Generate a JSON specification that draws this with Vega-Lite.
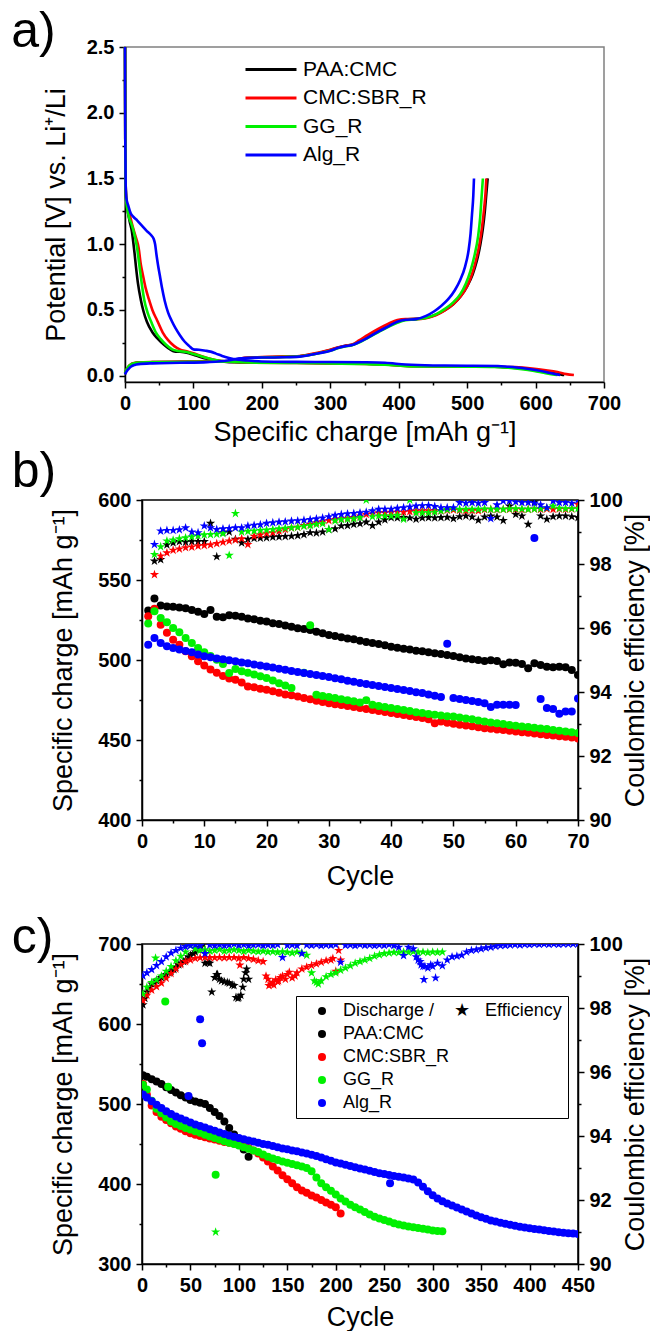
{
"$schema": "https://vega.github.io/schema/vega-lite/v6.json",
"background": "white",
"padding": {"left": 10, "top": 6, "right": 0, "bottom": 0},
"config": {
  "font": "Liberation Sans",
  "view": {"stroke": "#000", "strokeWidth": 1.5},
  "axis": {"labelFont": "Liberation Sans", "labelFontWeight": "bold", "labelFontSize": 20, "labelColor": "#000", "titleFont": "Liberation Sans", "titleFontWeight": "normal", "titleFontSize": 27, "titleColor": "#000", "domainColor": "#000", "domainWidth": 1.5, "tickColor": "#000", "tickWidth": 1.5, "tickSize": 6, "labelPadding": 5, "grid": false, "labelFlush": false, "labelOverlap": false},
  "title": {"font": "Liberation Sans", "fontWeight": "normal", "fontSize": 50, "color": "#000", "anchor": "start", "frame": "bounds"}
},
"datasets": {
"a": [
{"s":"P","g":"d","x":0,"v":2.5},{"s":"P","g":"d","x":0.4,"v":1.8},{"s":"P","g":"d","x":1,"v":1.45},{"s":"P","g":"d","x":2,"v":1.32},{"s":"P","g":"d","x":4,"v":1.25},{"s":"P","g":"d","x":7,"v":1.17},{"s":"P","g":"d","x":10,"v":1.1},{"s":"P","g":"d","x":12,"v":1.02},{"s":"P","g":"d","x":14,"v":0.93},{"s":"P","g":"d","x":16,"v":0.83},{"s":"P","g":"d","x":19,"v":0.7},{"s":"P","g":"d","x":23,"v":0.58},{"s":"P","g":"d","x":27,"v":0.49},{"s":"P","g":"d","x":32,"v":0.41},{"s":"P","g":"d","x":40,"v":0.33},{"s":"P","g":"d","x":48,"v":0.28},{"s":"P","g":"d","x":57,"v":0.235},{"s":"P","g":"d","x":66,"v":0.2},{"s":"P","g":"d","x":72,"v":0.185},{"s":"P","g":"d","x":80,"v":0.182},{"s":"P","g":"d","x":90,"v":0.175},{"s":"P","g":"d","x":100,"v":0.16},{"s":"P","g":"d","x":110,"v":0.143},{"s":"P","g":"d","x":120,"v":0.128},{"s":"P","g":"d","x":132,"v":0.115},{"s":"P","g":"d","x":145,"v":0.107},{"s":"P","g":"d","x":160,"v":0.102},{"s":"P","g":"d","x":180,"v":0.1},{"s":"P","g":"d","x":250,"v":0.098},{"s":"P","g":"d","x":300,"v":0.095},{"s":"P","g":"d","x":350,"v":0.091},{"s":"P","g":"d","x":380,"v":0.086},{"s":"P","g":"d","x":410,"v":0.076},{"s":"P","g":"d","x":450,"v":0.072},{"s":"P","g":"d","x":500,"v":0.07},{"s":"P","g":"d","x":540,"v":0.068},{"s":"P","g":"d","x":560,"v":0.063},{"s":"P","g":"d","x":580,"v":0.055},{"s":"P","g":"d","x":600,"v":0.042},{"s":"P","g":"d","x":615,"v":0.03},{"s":"P","g":"d","x":628,"v":0.018},{"s":"P","g":"d","x":638,"v":0.008},{"s":"P","g":"d","x":642,"v":0.005},
{"s":"P","g":"c","x":0,"v":0.02},{"s":"P","g":"c","x":2,"v":0.04},{"s":"P","g":"c","x":5,"v":0.065},{"s":"P","g":"c","x":9,"v":0.085},{"s":"P","g":"c","x":14,"v":0.095},{"s":"P","g":"c","x":20,"v":0.1},{"s":"P","g":"c","x":40,"v":0.103},{"s":"P","g":"c","x":80,"v":0.105},{"s":"P","g":"c","x":120,"v":0.107},{"s":"P","g":"c","x":150,"v":0.11},{"s":"P","g":"c","x":165,"v":0.125},{"s":"P","g":"c","x":175,"v":0.135},{"s":"P","g":"c","x":200,"v":0.14},{"s":"P","g":"c","x":230,"v":0.143},{"s":"P","g":"c","x":255,"v":0.148},{"s":"P","g":"c","x":270,"v":0.16},{"s":"P","g":"c","x":285,"v":0.175},{"s":"P","g":"c","x":300,"v":0.195},{"s":"P","g":"c","x":312,"v":0.215},{"s":"P","g":"c","x":322,"v":0.228},{"s":"P","g":"c","x":332,"v":0.235},{"s":"P","g":"c","x":342,"v":0.26},{"s":"P","g":"c","x":355,"v":0.3},{"s":"P","g":"c","x":370,"v":0.345},{"s":"P","g":"c","x":385,"v":0.385},{"s":"P","g":"c","x":398,"v":0.415},{"s":"P","g":"c","x":410,"v":0.428},{"s":"P","g":"c","x":425,"v":0.432},{"s":"P","g":"c","x":440,"v":0.44},{"s":"P","g":"c","x":455,"v":0.465},{"s":"P","g":"c","x":468,"v":0.5},{"s":"P","g":"c","x":480,"v":0.545},{"s":"P","g":"c","x":490,"v":0.6},{"s":"P","g":"c","x":500,"v":0.68},{"s":"P","g":"c","x":508,"v":0.77},{"s":"P","g":"c","x":514,"v":0.87},{"s":"P","g":"c","x":519,"v":0.99},{"s":"P","g":"c","x":523,"v":1.12},{"s":"P","g":"c","x":526,"v":1.26},{"s":"P","g":"c","x":528,"v":1.38},{"s":"P","g":"c","x":530,"v":1.5},
{"s":"C","g":"d","x":0,"v":2.5},{"s":"C","g":"d","x":0.4,"v":1.8},{"s":"C","g":"d","x":1,"v":1.45},{"s":"C","g":"d","x":2,"v":1.34},{"s":"C","g":"d","x":4,"v":1.28},{"s":"C","g":"d","x":8,"v":1.2},{"s":"C","g":"d","x":12,"v":1.12},{"s":"C","g":"d","x":16,"v":1.05},{"s":"C","g":"d","x":20,"v":0.97},{"s":"C","g":"d","x":23,"v":0.85},{"s":"C","g":"d","x":26,"v":0.77},{"s":"C","g":"d","x":30,"v":0.67},{"s":"C","g":"d","x":35,"v":0.58},{"s":"C","g":"d","x":40,"v":0.5},{"s":"C","g":"d","x":47,"v":0.42},{"s":"C","g":"d","x":55,"v":0.33},{"s":"C","g":"d","x":63,"v":0.27},{"s":"C","g":"d","x":72,"v":0.225},{"s":"C","g":"d","x":80,"v":0.2},{"s":"C","g":"d","x":90,"v":0.185},{"s":"C","g":"d","x":100,"v":0.17},{"s":"C","g":"d","x":110,"v":0.152},{"s":"C","g":"d","x":120,"v":0.135},{"s":"C","g":"d","x":132,"v":0.12},{"s":"C","g":"d","x":145,"v":0.11},{"s":"C","g":"d","x":160,"v":0.104},{"s":"C","g":"d","x":180,"v":0.1},{"s":"C","g":"d","x":250,"v":0.097},{"s":"C","g":"d","x":300,"v":0.094},{"s":"C","g":"d","x":350,"v":0.09},{"s":"C","g":"d","x":380,"v":0.085},{"s":"C","g":"d","x":410,"v":0.075},{"s":"C","g":"d","x":450,"v":0.071},{"s":"C","g":"d","x":500,"v":0.069},{"s":"C","g":"d","x":540,"v":0.068},{"s":"C","g":"d","x":570,"v":0.065},{"s":"C","g":"d","x":595,"v":0.055},{"s":"C","g":"d","x":615,"v":0.042},{"s":"C","g":"d","x":632,"v":0.028},{"s":"C","g":"d","x":645,"v":0.012},{"s":"C","g":"d","x":656,"v":0.005},
{"s":"C","g":"c","x":0,"v":0.02},{"s":"C","g":"c","x":2,"v":0.045},{"s":"C","g":"c","x":5,"v":0.07},{"s":"C","g":"c","x":9,"v":0.088},{"s":"C","g":"c","x":14,"v":0.097},{"s":"C","g":"c","x":20,"v":0.101},{"s":"C","g":"c","x":40,"v":0.104},{"s":"C","g":"c","x":80,"v":0.106},{"s":"C","g":"c","x":120,"v":0.108},{"s":"C","g":"c","x":150,"v":0.111},{"s":"C","g":"c","x":165,"v":0.125},{"s":"C","g":"c","x":175,"v":0.136},{"s":"C","g":"c","x":200,"v":0.141},{"s":"C","g":"c","x":230,"v":0.145},{"s":"C","g":"c","x":255,"v":0.15},{"s":"C","g":"c","x":270,"v":0.162},{"s":"C","g":"c","x":285,"v":0.178},{"s":"C","g":"c","x":300,"v":0.198},{"s":"C","g":"c","x":312,"v":0.217},{"s":"C","g":"c","x":322,"v":0.228},{"s":"C","g":"c","x":332,"v":0.238},{"s":"C","g":"c","x":342,"v":0.268},{"s":"C","g":"c","x":355,"v":0.31},{"s":"C","g":"c","x":370,"v":0.355},{"s":"C","g":"c","x":385,"v":0.395},{"s":"C","g":"c","x":398,"v":0.423},{"s":"C","g":"c","x":410,"v":0.43},{"s":"C","g":"c","x":425,"v":0.43},{"s":"C","g":"c","x":440,"v":0.438},{"s":"C","g":"c","x":455,"v":0.462},{"s":"C","g":"c","x":468,"v":0.498},{"s":"C","g":"c","x":480,"v":0.545},{"s":"C","g":"c","x":490,"v":0.6},{"s":"C","g":"c","x":500,"v":0.68},{"s":"C","g":"c","x":507,"v":0.77},{"s":"C","g":"c","x":513,"v":0.88},{"s":"C","g":"c","x":518,"v":1.0},{"s":"C","g":"c","x":522,"v":1.14},{"s":"C","g":"c","x":525,"v":1.28},{"s":"C","g":"c","x":527,"v":1.4},{"s":"C","g":"c","x":528,"v":1.5},
{"s":"G","g":"d","x":0,"v":2.5},{"s":"G","g":"d","x":0.4,"v":1.8},{"s":"G","g":"d","x":1,"v":1.42},{"s":"G","g":"d","x":2,"v":1.32},{"s":"G","g":"d","x":4,"v":1.25},{"s":"G","g":"d","x":6,"v":1.2},{"s":"G","g":"d","x":9,"v":1.16},{"s":"G","g":"d","x":13,"v":1.09},{"s":"G","g":"d","x":16,"v":1.02},{"s":"G","g":"d","x":18,"v":0.96},{"s":"G","g":"d","x":20,"v":0.88},{"s":"G","g":"d","x":22,"v":0.8},{"s":"G","g":"d","x":25,"v":0.68},{"s":"G","g":"d","x":28,"v":0.58},{"s":"G","g":"d","x":33,"v":0.48},{"s":"G","g":"d","x":39,"v":0.4},{"s":"G","g":"d","x":45,"v":0.33},{"s":"G","g":"d","x":52,"v":0.28},{"s":"G","g":"d","x":60,"v":0.235},{"s":"G","g":"d","x":69,"v":0.2},{"s":"G","g":"d","x":78,"v":0.188},{"s":"G","g":"d","x":90,"v":0.18},{"s":"G","g":"d","x":100,"v":0.165},{"s":"G","g":"d","x":110,"v":0.15},{"s":"G","g":"d","x":120,"v":0.135},{"s":"G","g":"d","x":132,"v":0.12},{"s":"G","g":"d","x":145,"v":0.11},{"s":"G","g":"d","x":160,"v":0.104},{"s":"G","g":"d","x":180,"v":0.1},{"s":"G","g":"d","x":250,"v":0.097},{"s":"G","g":"d","x":300,"v":0.093},{"s":"G","g":"d","x":350,"v":0.089},{"s":"G","g":"d","x":380,"v":0.084},{"s":"G","g":"d","x":410,"v":0.073},{"s":"G","g":"d","x":450,"v":0.07},{"s":"G","g":"d","x":500,"v":0.068},{"s":"G","g":"d","x":540,"v":0.066},{"s":"G","g":"d","x":560,"v":0.06},{"s":"G","g":"d","x":580,"v":0.05},{"s":"G","g":"d","x":598,"v":0.036},{"s":"G","g":"d","x":612,"v":0.022},{"s":"G","g":"d","x":625,"v":0.01},{"s":"G","g":"d","x":632,"v":0.005},
{"s":"G","g":"c","x":0,"v":0.02},{"s":"G","g":"c","x":2,"v":0.045},{"s":"G","g":"c","x":5,"v":0.07},{"s":"G","g":"c","x":9,"v":0.087},{"s":"G","g":"c","x":14,"v":0.096},{"s":"G","g":"c","x":20,"v":0.1},{"s":"G","g":"c","x":40,"v":0.102},{"s":"G","g":"c","x":80,"v":0.104},{"s":"G","g":"c","x":120,"v":0.106},{"s":"G","g":"c","x":150,"v":0.109},{"s":"G","g":"c","x":165,"v":0.122},{"s":"G","g":"c","x":175,"v":0.133},{"s":"G","g":"c","x":200,"v":0.138},{"s":"G","g":"c","x":230,"v":0.142},{"s":"G","g":"c","x":255,"v":0.147},{"s":"G","g":"c","x":270,"v":0.158},{"s":"G","g":"c","x":285,"v":0.172},{"s":"G","g":"c","x":300,"v":0.19},{"s":"G","g":"c","x":312,"v":0.21},{"s":"G","g":"c","x":322,"v":0.222},{"s":"G","g":"c","x":332,"v":0.232},{"s":"G","g":"c","x":342,"v":0.252},{"s":"G","g":"c","x":355,"v":0.288},{"s":"G","g":"c","x":370,"v":0.33},{"s":"G","g":"c","x":385,"v":0.372},{"s":"G","g":"c","x":398,"v":0.403},{"s":"G","g":"c","x":410,"v":0.422},{"s":"G","g":"c","x":425,"v":0.428},{"s":"G","g":"c","x":440,"v":0.44},{"s":"G","g":"c","x":455,"v":0.468},{"s":"G","g":"c","x":468,"v":0.51},{"s":"G","g":"c","x":480,"v":0.56},{"s":"G","g":"c","x":490,"v":0.62},{"s":"G","g":"c","x":498,"v":0.7},{"s":"G","g":"c","x":505,"v":0.8},{"s":"G","g":"c","x":511,"v":0.92},{"s":"G","g":"c","x":516,"v":1.06},{"s":"G","g":"c","x":519,"v":1.2},{"s":"G","g":"c","x":521,"v":1.35},{"s":"G","g":"c","x":523,"v":1.5},
{"s":"A","g":"d","x":0,"v":2.5},{"s":"A","g":"d","x":0.4,"v":1.8},{"s":"A","g":"d","x":1,"v":1.45},{"s":"A","g":"d","x":2,"v":1.35},{"s":"A","g":"d","x":5,"v":1.29},{"s":"A","g":"d","x":8,"v":1.24},{"s":"A","g":"d","x":12,"v":1.21},{"s":"A","g":"d","x":18,"v":1.18},{"s":"A","g":"d","x":25,"v":1.14},{"s":"A","g":"d","x":32,"v":1.1},{"s":"A","g":"d","x":38,"v":1.07},{"s":"A","g":"d","x":42,"v":1.04},{"s":"A","g":"d","x":44,"v":1.0},{"s":"A","g":"d","x":46,"v":0.92},{"s":"A","g":"d","x":48,"v":0.85},{"s":"A","g":"d","x":51,"v":0.76},{"s":"A","g":"d","x":54,"v":0.67},{"s":"A","g":"d","x":58,"v":0.57},{"s":"A","g":"d","x":63,"v":0.48},{"s":"A","g":"d","x":68,"v":0.42},{"s":"A","g":"d","x":74,"v":0.36},{"s":"A","g":"d","x":80,"v":0.31},{"s":"A","g":"d","x":87,"v":0.26},{"s":"A","g":"d","x":94,"v":0.225},{"s":"A","g":"d","x":100,"v":0.2},{"s":"A","g":"d","x":108,"v":0.197},{"s":"A","g":"d","x":118,"v":0.19},{"s":"A","g":"d","x":125,"v":0.183},{"s":"A","g":"d","x":133,"v":0.168},{"s":"A","g":"d","x":142,"v":0.15},{"s":"A","g":"d","x":152,"v":0.135},{"s":"A","g":"d","x":165,"v":0.122},{"s":"A","g":"d","x":180,"v":0.115},{"s":"A","g":"d","x":200,"v":0.108},{"s":"A","g":"d","x":250,"v":0.105},{"s":"A","g":"d","x":300,"v":0.104},{"s":"A","g":"d","x":350,"v":0.102},{"s":"A","g":"d","x":380,"v":0.098},{"s":"A","g":"d","x":410,"v":0.085},{"s":"A","g":"d","x":450,"v":0.078},{"s":"A","g":"d","x":500,"v":0.076},{"s":"A","g":"d","x":545,"v":0.074},{"s":"A","g":"d","x":560,"v":0.068},{"s":"A","g":"d","x":580,"v":0.058},{"s":"A","g":"d","x":600,"v":0.043},{"s":"A","g":"d","x":615,"v":0.028},{"s":"A","g":"d","x":628,"v":0.013},{"s":"A","g":"d","x":636,"v":0.005},
{"s":"A","g":"c","x":0,"v":0.01},{"s":"A","g":"c","x":2,"v":0.03},{"s":"A","g":"c","x":5,"v":0.05},{"s":"A","g":"c","x":9,"v":0.07},{"s":"A","g":"c","x":14,"v":0.082},{"s":"A","g":"c","x":20,"v":0.088},{"s":"A","g":"c","x":40,"v":0.094},{"s":"A","g":"c","x":80,"v":0.098},{"s":"A","g":"c","x":120,"v":0.103},{"s":"A","g":"c","x":150,"v":0.115},{"s":"A","g":"c","x":165,"v":0.13},{"s":"A","g":"c","x":175,"v":0.135},{"s":"A","g":"c","x":200,"v":0.138},{"s":"A","g":"c","x":230,"v":0.14},{"s":"A","g":"c","x":255,"v":0.145},{"s":"A","g":"c","x":270,"v":0.157},{"s":"A","g":"c","x":285,"v":0.172},{"s":"A","g":"c","x":300,"v":0.19},{"s":"A","g":"c","x":312,"v":0.212},{"s":"A","g":"c","x":322,"v":0.225},{"s":"A","g":"c","x":332,"v":0.233},{"s":"A","g":"c","x":342,"v":0.255},{"s":"A","g":"c","x":355,"v":0.29},{"s":"A","g":"c","x":370,"v":0.335},{"s":"A","g":"c","x":385,"v":0.375},{"s":"A","g":"c","x":398,"v":0.41},{"s":"A","g":"c","x":410,"v":0.425},{"s":"A","g":"c","x":425,"v":0.43},{"s":"A","g":"c","x":440,"v":0.455},{"s":"A","g":"c","x":452,"v":0.49},{"s":"A","g":"c","x":462,"v":0.53},{"s":"A","g":"c","x":472,"v":0.58},{"s":"A","g":"c","x":482,"v":0.65},{"s":"A","g":"c","x":490,"v":0.73},{"s":"A","g":"c","x":497,"v":0.83},{"s":"A","g":"c","x":502,"v":0.95},{"s":"A","g":"c","x":505,"v":1.08},{"s":"A","g":"c","x":507,"v":1.22},{"s":"A","g":"c","x":509,"v":1.37},{"s":"A","g":"c","x":510,"v":1.5}
],
"b": [
{"s":"P","c":1,"q":531},{"s":"P","c":2,"q":538.5,"e":98.09},{"s":"P","c":3,"q":534,"e":98.14},{"s":"P","c":4,"q":533.5,"e":98.6},{"s":"P","c":5,"q":533.3,"e":98.66},{"s":"P","c":6,"q":532.8,"e":98.7},{"s":"P","c":7,"q":532.3,"e":98.68},{"s":"P","c":8,"q":531.3,"e":98.7},{"s":"P","c":9,"q":530.2,"e":98.7},{"s":"P","c":10,"q":528.8,"e":98.7},{"s":"P","c":11,"q":531.2,"e":99.27},{"s":"P","c":12,"q":527,"e":98.23},{"s":"P","c":13,"q":526.7,"e":98.98},{"s":"P","c":14,"q":528,"e":99.0},{"s":"P","c":15,"q":527.6,"e":98.77},{"s":"P","c":16,"q":527,"e":98.66},{"s":"P","c":17,"q":526,"e":98.77},{"s":"P","c":18,"q":525.4,"e":98.8},{"s":"P","c":19,"q":524.6,"e":98.81},{"s":"P","c":20,"q":524,"e":98.82},{"s":"P","c":21,"q":523,"e":98.84},{"s":"P","c":22,"q":522.5,"e":98.85},{"s":"P","c":23,"q":521.5,"e":98.86},{"s":"P","c":24,"q":520.8,"e":98.87},{"s":"P","c":25,"q":519.8,"e":98.89},{"s":"P","c":26,"q":519.4,"e":98.92},{"s":"P","c":27,"q":518.8,"e":98.98},{"s":"P","c":28,"q":517.7,"e":98.97},{"s":"P","c":29,"q":516.7,"e":99.0},{"s":"P","c":30,"q":515.6,"e":99.08},{"s":"P","c":31,"q":515,"e":99.1},{"s":"P","c":32,"q":514.2,"e":99.19},{"s":"P","c":33,"q":513.5,"e":99.2},{"s":"P","c":34,"q":512.9,"e":99.24},{"s":"P","c":35,"q":512,"e":99.26},{"s":"P","c":36,"q":511.3,"e":99.31},{"s":"P","c":37,"q":510.6,"e":99.2},{"s":"P","c":38,"q":510,"e":99.31},{"s":"P","c":39,"q":509.2,"e":99.38},{"s":"P","c":40,"q":508.3,"e":99.45},{"s":"P","c":41,"q":507.7,"e":99.44},{"s":"P","c":42,"q":507,"e":99.45},{"s":"P","c":43,"q":506.5,"e":99.44},{"s":"P","c":44,"q":505.8,"e":99.4},{"s":"P","c":45,"q":505.4,"e":99.44},{"s":"P","c":46,"q":504.8,"e":99.45},{"s":"P","c":47,"q":504.2,"e":99.44},{"s":"P","c":48,"q":503.7,"e":99.45},{"s":"P","c":49,"q":503.1,"e":99.46},{"s":"P","c":50,"q":502.5,"e":99.42},{"s":"P","c":51,"q":501.7,"e":99.48},{"s":"P","c":52,"q":501,"e":99.5},{"s":"P","c":53,"q":500.4,"e":99.47},{"s":"P","c":54,"q":500,"e":99.37},{"s":"P","c":55,"q":499.4,"e":99.47},{"s":"P","c":56,"q":499.8,"e":99.5},{"s":"P","c":57,"q":499.4,"e":99.47},{"s":"P","c":58,"q":497.3,"e":99.36},{"s":"P","c":59,"q":498.5,"e":99.81},{"s":"P","c":60,"q":498.3,"e":99.55},{"s":"P","c":61,"q":497.5,"e":99.5},{"s":"P","c":62,"q":494.8,"e":99.24},{"s":"P","c":63,"q":497.9,"e":99.94},{"s":"P","c":64,"q":496.9,"e":99.5},{"s":"P","c":65,"q":495.8,"e":99.4},{"s":"P","c":66,"q":495.4,"e":99.48},{"s":"P","c":67,"q":495.8,"e":99.5},{"s":"P","c":68,"q":495.4,"e":99.5},{"s":"P","c":69,"q":493.8,"e":99.48},{"s":"P","c":70,"q":490.6,"e":99.45},
{"s":"C","c":1,"q":527.3},{"s":"C","c":2,"q":532,"e":97.67},{"s":"C","c":3,"q":522,"e":98.25},{"s":"C","c":4,"q":517,"e":98.35},{"s":"C","c":5,"q":512.7,"e":98.43},{"s":"C","c":6,"q":509.6,"e":98.47},{"s":"C","c":7,"q":505.4,"e":98.51},{"s":"C","c":8,"q":502.3,"e":98.53},{"s":"C","c":9,"q":499.2,"e":98.56},{"s":"C","c":10,"q":496.5,"e":98.58},{"s":"C","c":11,"q":494,"e":98.6},{"s":"C","c":12,"q":492,"e":98.64},{"s":"C","c":13,"q":490,"e":98.68},{"s":"C","c":14,"q":488.5,"e":98.72},{"s":"C","c":15,"q":487.7,"e":98.75},{"s":"C","c":16,"q":486,"e":98.79},{"s":"C","c":17,"q":483.5,"e":98.61},{"s":"C","c":18,"q":483,"e":98.87},{"s":"C","c":19,"q":482,"e":98.91},{"s":"C","c":20,"q":481.4,"e":98.96},{"s":"C","c":21,"q":480.5,"e":98.98},{"s":"C","c":22,"q":479.5,"e":99.03},{"s":"C","c":23,"q":478.5,"e":99.08},{"s":"C","c":24,"q":478,"e":99.13},{"s":"C","c":25,"q":477.2,"e":99.15},{"s":"C","c":26,"q":476.3,"e":99.2},{"s":"C","c":27,"q":475.5,"e":99.24},{"s":"C","c":28,"q":474.6,"e":99.29},{"s":"C","c":29,"q":473.8,"e":99.32},{"s":"C","c":30,"q":473,"e":99.36},{"s":"C","c":31,"q":472.4,"e":99.39},{"s":"C","c":32,"q":471.8,"e":99.41},{"s":"C","c":33,"q":471.2,"e":99.43},{"s":"C","c":34,"q":470.6,"e":99.45},{"s":"C","c":35,"q":470,"e":99.5},{"s":"C","c":36,"q":469.4,"e":99.55},{"s":"C","c":37,"q":468.8,"e":99.57},{"s":"C","c":38,"q":468.1,"e":99.6},{"s":"C","c":39,"q":467.5,"e":99.6},{"s":"C","c":40,"q":466.8,"e":99.62},{"s":"C","c":41,"q":466.2,"e":99.62},{"s":"C","c":42,"q":465.6,"e":99.62},{"s":"C","c":43,"q":465,"e":99.64},{"s":"C","c":44,"q":464.3,"e":99.66},{"s":"C","c":45,"q":463.7,"e":99.66},{"s":"C","c":46,"q":463,"e":99.66},{"s":"C","c":47,"q":460.5,"e":99.67},{"s":"C","c":48,"q":461.5,"e":99.66},{"s":"C","c":49,"q":460.8,"e":99.68},{"s":"C","c":50,"q":460.2,"e":99.69},{"s":"C","c":51,"q":459.6,"e":99.68},{"s":"C","c":52,"q":459.1,"e":99.66},{"s":"C","c":53,"q":458.6,"e":99.67},{"s":"C","c":54,"q":458,"e":99.66},{"s":"C","c":55,"q":457.4,"e":99.7},{"s":"C","c":56,"q":457,"e":99.71},{"s":"C","c":57,"q":456.6,"e":99.7},{"s":"C","c":58,"q":456.2,"e":99.71},{"s":"C","c":59,"q":455.8,"e":99.71},{"s":"C","c":60,"q":455.3,"e":99.71},{"s":"C","c":61,"q":454.9,"e":99.7},{"s":"C","c":62,"q":454.5,"e":99.71},{"s":"C","c":63,"q":454.1,"e":99.72},{"s":"C","c":64,"q":453.6,"e":99.71},{"s":"C","c":65,"q":453.2,"e":99.72},{"s":"C","c":66,"q":452.8,"e":99.71},{"s":"C","c":67,"q":452.4,"e":99.72},{"s":"C","c":68,"q":452,"e":99.71},{"s":"C","c":69,"q":451.6,"e":99.72},{"s":"C","c":70,"q":451,"e":99.86},
{"s":"G","c":1,"q":522.8},{"s":"G","c":2,"q":530.5,"e":98.3},{"s":"G","c":3,"q":526.3,"e":98.54},{"s":"G","c":4,"q":523.6,"e":98.72},{"s":"G","c":5,"q":520,"e":98.75},{"s":"G","c":6,"q":517.3,"e":98.79},{"s":"G","c":7,"q":513.8,"e":98.82},{"s":"G","c":8,"q":510.6,"e":98.85},{"s":"G","c":9,"q":507.5,"e":98.88},{"s":"G","c":10,"q":504.8,"e":98.91},{"s":"G","c":11,"q":502.5,"e":98.92},{"s":"G","c":12,"q":500.2,"e":98.93},{"s":"G","c":13,"q":497.5,"e":98.95},{"s":"G","c":14,"q":491.9,"e":98.27},{"s":"G","c":15,"q":494.4,"e":99.58},{"s":"G","c":16,"q":493,"e":99.0},{"s":"G","c":17,"q":492,"e":99.02},{"s":"G","c":18,"q":491,"e":99.03},{"s":"G","c":19,"q":489.8,"e":99.05},{"s":"G","c":20,"q":488.7,"e":99.06},{"s":"G","c":21,"q":487.2,"e":99.08},{"s":"G","c":22,"q":485.5,"e":99.1},{"s":"G","c":23,"q":484,"e":99.12},{"s":"G","c":24,"q":482.5,"e":99.13},{"s":"G","c":25,"e":99.15},{"s":"G","c":26,"q":492,"e":99.18},{"s":"G","c":27,"q":521.7,"e":99.2},{"s":"G","c":28,"q":478.3,"e":99.24},{"s":"G","c":29,"q":477.5,"e":99.26},{"s":"G","c":30,"q":476.8,"e":99.08},{"s":"G","c":31,"q":476.2,"e":99.35},{"s":"G","c":32,"q":475.5,"e":99.39},{"s":"G","c":33,"q":474.8,"e":99.4},{"s":"G","c":34,"q":474.2,"e":99.41},{"s":"G","c":35,"q":473.5,"e":99.45},{"s":"G","c":36,"q":474.8,"e":100},{"s":"G","c":37,"q":472,"e":99.48},{"s":"G","c":38,"q":471.3,"e":99.5},{"s":"G","c":39,"q":470.6,"e":99.5},{"s":"G","c":40,"q":470,"e":99.5},{"s":"G","c":41,"q":469.4,"e":99.52},{"s":"G","c":42,"q":468.7,"e":99.4},{"s":"G","c":43,"q":468.1,"e":100},{"s":"G","c":44,"q":467.4,"e":99.6},{"s":"G","c":45,"q":466.8,"e":99.6},{"s":"G","c":46,"q":466.3,"e":99.6},{"s":"G","c":47,"q":465.8,"e":99.62},{"s":"G","c":48,"q":465.3,"e":99.66},{"s":"G","c":49,"q":464.9,"e":99.7},{"s":"G","c":50,"q":464.7,"e":99.73},{"s":"G","c":51,"q":464.1,"e":99.7},{"s":"G","c":52,"q":463.5,"e":99.71},{"s":"G","c":53,"q":462.9,"e":99.71},{"s":"G","c":54,"q":462.2,"e":99.71},{"s":"G","c":55,"q":461.6,"e":99.72},{"s":"G","c":56,"q":461,"e":99.71},{"s":"G","c":57,"q":460.5,"e":99.71},{"s":"G","c":58,"q":460,"e":99.71},{"s":"G","c":59,"q":459.4,"e":99.72},{"s":"G","c":60,"q":458.9,"e":99.73},{"s":"G","c":61,"q":458.5,"e":99.72},{"s":"G","c":62,"q":458.1,"e":99.71},{"s":"G","c":63,"q":457.6,"e":99.72},{"s":"G","c":64,"q":457.2,"e":99.73},{"s":"G","c":65,"q":456.8,"e":99.75},{"s":"G","c":66,"q":456.3,"e":99.81},{"s":"G","c":67,"q":455.8,"e":99.74},{"s":"G","c":68,"q":455.3,"e":99.73},{"s":"G","c":69,"q":454.8,"e":99.73},{"s":"G","c":70,"q":454.3,"e":99.73},
{"s":"A","c":1,"q":509.6},{"s":"A","c":2,"q":513.8,"e":98.61},{"s":"A","c":3,"q":510.6,"e":99.03},{"s":"A","c":4,"q":508.6,"e":99.05},{"s":"A","c":5,"q":507.5,"e":99.05},{"s":"A","c":6,"q":506.6,"e":99.07},{"s":"A","c":7,"q":505.7,"e":99.13},{"s":"A","c":8,"q":504.8,"e":99.0},{"s":"A","c":9,"q":503.5,"e":98.98},{"s":"A","c":10,"q":502.3,"e":99.19},{"s":"A","c":11,"q":501.7,"e":99.13},{"s":"A","c":12,"q":501,"e":99.08},{"s":"A","c":13,"q":500.4,"e":99.1},{"s":"A","c":14,"q":499.8,"e":99.11},{"s":"A","c":15,"q":499.2,"e":99.13},{"s":"A","c":16,"q":498.5,"e":99.13},{"s":"A","c":17,"q":497.9,"e":99.19},{"s":"A","c":18,"q":497.2,"e":99.21},{"s":"A","c":19,"q":496.6,"e":99.23},{"s":"A","c":20,"q":496,"e":99.27},{"s":"A","c":21,"q":495.3,"e":99.29},{"s":"A","c":22,"q":494.6,"e":99.31},{"s":"A","c":23,"q":493.9,"e":99.32},{"s":"A","c":24,"q":493.2,"e":99.34},{"s":"A","c":25,"q":492.5,"e":99.35},{"s":"A","c":26,"q":491.9,"e":99.37},{"s":"A","c":27,"q":491.3,"e":99.39},{"s":"A","c":28,"q":490.6,"e":99.41},{"s":"A","c":29,"q":490,"e":99.44},{"s":"A","c":30,"q":489.4,"e":99.48},{"s":"A","c":31,"q":488.6,"e":99.52},{"s":"A","c":32,"q":487.9,"e":99.55},{"s":"A","c":33,"q":487.1,"e":99.57},{"s":"A","c":34,"q":486.4,"e":99.58},{"s":"A","c":35,"q":485.6,"e":99.6},{"s":"A","c":36,"q":485,"e":99.62},{"s":"A","c":37,"q":484.4,"e":99.66},{"s":"A","c":38,"q":483.7,"e":99.71},{"s":"A","c":39,"q":483.1,"e":99.71},{"s":"A","c":40,"q":482.5,"e":99.71},{"s":"A","c":41,"q":481.9,"e":99.74},{"s":"A","c":42,"q":481.2,"e":99.76},{"s":"A","c":43,"q":480.6,"e":99.78},{"s":"A","c":44,"q":479.9,"e":99.81},{"s":"A","c":45,"q":479.3,"e":99.82},{"s":"A","c":46,"q":478.5,"e":99.83},{"s":"A","c":47,"q":477.6,"e":99.8},{"s":"A","c":48,"q":476.8,"e":99.76},{"s":"A","c":49,"q":510.2,"e":99.76},{"s":"A","c":50,"q":476.2,"e":99.76},{"s":"A","c":51,"q":475.6,"e":99.92},{"s":"A","c":52,"q":475,"e":99.9},{"s":"A","c":53,"q":474.4,"e":99.92},{"s":"A","c":54,"q":473.8,"e":99.9},{"s":"A","c":55,"q":473,"e":99.92},{"s":"A","c":56,"q":470.6,"e":99.42},{"s":"A","c":57,"q":472,"e":99.85},{"s":"A","c":58,"q":472,"e":99.97},{"s":"A","c":59,"q":472,"e":99.97},{"s":"A","c":60,"q":471.8,"e":99.94},{"s":"A","c":61,"e":99.92},{"s":"A","c":62,"e":99.92},{"s":"A","c":63,"q":576.2,"e":99.9},{"s":"A","c":64,"q":475.6,"e":99.85},{"s":"A","c":65,"q":470,"e":99.76},{"s":"A","c":66,"q":469.4,"e":99.97},{"s":"A","c":67,"q":466.4,"e":99.92},{"s":"A","c":68,"q":467.8,"e":99.92},{"s":"A","c":69,"q":467.8,"e":99.9},{"s":"A","c":70,"q":476,"e":100}
],
"c": [
{"s":"P","c":1,"q":536,"e":98.1},{"s":"P","c":5,"q":534,"e":98.5},{"s":"P","c":10,"q":531,"e":98.75},{"s":"P","c":15,"q":528,"e":98.85},{"s":"P","c":20,"q":525,"e":98.95},{"s":"P","c":25,"q":521,"e":99.05},{"s":"P","c":30,"q":517.5,"e":99.15},{"s":"P","c":35,"q":514.5,"e":99.27},{"s":"P","c":40,"q":511,"e":99.4},{"s":"P","c":45,"q":508,"e":99.5},{"s":"P","c":50,"q":505,"e":99.65},{"s":"P","c":55,"q":503,"e":99.75},{"s":"P","c":60,"q":501.5,"e":99.88},{"s":"P","c":65,"q":500,"e":99.4},{"s":"P","c":70,"q":495,"e":99.4},{"s":"P","c":75,"q":490,"e":98.95},{"s":"P","c":80,"q":485,"e":98.9},{"s":"P","c":85,"q":478,"e":98.82},{"s":"P","c":90,"q":470,"e":98.78},{"s":"P","c":95,"q":462,"e":98.7},{"s":"P","c":100,"q":454,"e":98.33},{"s":"P","c":105,"q":443,"e":98.9},{"s":"P","c":110,"q":434,"e":98.9},
{"s":"P","c":3,"e":98.3},{"s":"P","c":8,"e":98.65},{"s":"P","c":13,"e":98.8},{"s":"P","c":18,"e":98.9},{"s":"P","c":23,"e":99.0},{"s":"P","c":28,"e":99.1},{"s":"P","c":33,"e":99.2},{"s":"P","c":38,"e":99.35},{"s":"P","c":43,"e":99.45},{"s":"P","c":48,"e":99.6},{"s":"P","c":53,"e":99.7},{"s":"P","c":58,"e":99.82},{"s":"P","c":63,"e":100},{"s":"P","c":68,"e":99.42},{"s":"P","c":72,"e":98.5},{"s":"P","c":77,"e":99.04},{"s":"P","c":78,"e":99.05},{"s":"P","c":82,"e":98.85},{"s":"P","c":88,"e":98.8},{"s":"P","c":93,"e":98.72},{"s":"P","c":97,"e":98.33},{"s":"P","c":99,"e":98.3},{"s":"P","c":102,"e":98.4},{"s":"P","c":104,"e":98.65},{"s":"P","c":107,"e":99.1},{"s":"P","c":108,"e":99.22},
{"s":"C","c":1,"q":525,"e":98.23},{"s":"C","c":5,"q":512,"e":98.4},{"s":"C","c":10,"q":498,"e":98.56},{"s":"C","c":15,"q":490,"e":98.67},{"s":"C","c":20,"q":484,"e":98.78},{"s":"C","c":25,"q":480,"e":98.93},{"s":"C","c":30,"q":476,"e":99.08},{"s":"C","c":35,"q":472,"e":99.22},{"s":"C","c":40,"q":469,"e":99.36},{"s":"C","c":45,"q":466,"e":99.45},{"s":"C","c":50,"q":463.5,"e":99.5},{"s":"C","c":55,"q":461.5,"e":99.55},{"s":"C","c":60,"q":460,"e":99.57},{"s":"C","c":65,"q":458.5,"e":99.58},{"s":"C","c":70,"q":457,"e":99.58},{"s":"C","c":75,"q":455.5,"e":99.57},{"s":"C","c":80,"q":454,"e":99.58},{"s":"C","c":85,"q":452.5,"e":99.57},{"s":"C","c":90,"q":451.5,"e":99.58},{"s":"C","c":95,"q":450.5,"e":99.58},{"s":"C","c":100,"q":449,"e":99.55},{"s":"C","c":105,"q":447,"e":99.58},{"s":"C","c":110,"q":445,"e":99.55},{"s":"C","c":115,"q":442,"e":99.52},{"s":"C","c":120,"q":438,"e":99.48},{"s":"C","c":125,"q":433,"e":99.45},{"s":"C","c":130,"q":428,"e":98.9},{"s":"C","c":135,"q":422,"e":98.8},{"s":"C","c":140,"q":417,"e":98.82},{"s":"C","c":145,"q":411,"e":99.0},{"s":"C","c":150,"q":406,"e":99.05},{"s":"C","c":155,"q":401,"e":98.94},{"s":"C","c":160,"q":396,"e":99.1},{"s":"C","c":165,"q":392,"e":99.22},{"s":"C","c":170,"q":389,"e":99.28},{"s":"C","c":175,"q":385.5,"e":99.33},{"s":"C","c":180,"q":383,"e":99.38},{"s":"C","c":185,"q":380,"e":99.43},{"s":"C","c":190,"q":377,"e":99.48},{"s":"C","c":195,"q":374,"e":99.5},{"s":"C","c":200,"q":371,"e":99.15},{"s":"C","c":205,"q":363,"e":99.5},
{"s":"C","c":101,"e":99.34},{"s":"C","c":128,"e":99.0},{"s":"C","c":131,"e":98.7},{"s":"C","c":133,"e":98.75},{"s":"C","c":136,"e":98.72},{"s":"C","c":138,"e":98.88},{"s":"C","c":141,"e":98.85},{"s":"C","c":143,"e":98.95},{"s":"C","c":148,"e":98.9},{"s":"C","c":152,"e":99.12},{"s":"C","c":158,"e":99.0},{"s":"C","c":197,"e":99.55},{"s":"C","c":203,"e":99.8},
{"s":"G","c":1,"q":524,"e":98.44},{"s":"G","c":5,"q":518,"e":98.65},{"s":"G","c":10,"q":504,"e":98.8},{"s":"G","c":15,"q":494,"e":98.88},{"s":"G","c":20,"q":488.5,"e":99.0},{"s":"G","c":25,"q":483,"e":99.15},{"s":"G","c":30,"q":478,"e":99.3},{"s":"G","c":35,"q":475,"e":99.48},{"s":"G","c":40,"q":472.5,"e":99.62},{"s":"G","c":45,"q":470,"e":99.75},{"s":"G","c":50,"q":468,"e":99.95},{"s":"G","c":55,"q":466,"e":99.85},{"s":"G","c":60,"q":464,"e":99.8},{"s":"G","c":65,"q":461.5,"e":99.82},{"s":"G","c":70,"q":459.5,"e":99.78},{"s":"G","c":75,"q":457.5,"e":99.8},{"s":"G","c":80,"q":455.5,"e":99.83},{"s":"G","c":85,"q":453.5,"e":99.78},{"s":"G","c":90,"q":451.5,"e":99.8},{"s":"G","c":95,"q":450,"e":99.82},{"s":"G","c":100,"q":448,"e":99.8},{"s":"G","c":105,"q":446,"e":99.77},{"s":"G","c":110,"q":444,"e":99.8},{"s":"G","c":115,"q":442,"e":99.78},{"s":"G","c":120,"q":440,"e":99.76},{"s":"G","c":125,"q":437,"e":99.78},{"s":"G","c":130,"q":434,"e":99.75},{"s":"G","c":135,"q":432,"e":99.76},{"s":"G","c":140,"q":430,"e":99.74},{"s":"G","c":145,"q":428,"e":99.76},{"s":"G","c":150,"q":426.5,"e":99.74},{"s":"G","c":155,"q":425,"e":99.72},{"s":"G","c":160,"q":423.5,"e":99.75},{"s":"G","c":165,"q":422,"e":99.72},{"s":"G","c":170,"q":420,"e":99.65},{"s":"G","c":175,"q":416,"e":99.1},{"s":"G","c":180,"q":408,"e":98.8},{"s":"G","c":185,"q":401,"e":98.85},{"s":"G","c":190,"q":396,"e":98.98},{"s":"G","c":195,"q":391.5,"e":99.05},{"s":"G","c":200,"q":387,"e":99.1},{"s":"G","c":205,"q":382,"e":99.18},{"s":"G","c":210,"q":378,"e":99.25},{"s":"G","c":215,"q":374,"e":99.32},{"s":"G","c":220,"q":371,"e":99.4},{"s":"G","c":225,"q":368,"e":99.45},{"s":"G","c":230,"q":365,"e":99.5},{"s":"G","c":235,"q":362,"e":99.55},{"s":"G","c":240,"q":359,"e":99.62},{"s":"G","c":245,"q":357,"e":99.66},{"s":"G","c":250,"q":355,"e":99.7},{"s":"G","c":255,"q":353,"e":99.72},{"s":"G","c":260,"q":351,"e":99.74},{"s":"G","c":265,"q":349.5,"e":99.73},{"s":"G","c":270,"q":348,"e":99.75},{"s":"G","c":275,"q":347,"e":99.74},{"s":"G","c":280,"q":346,"e":99.76},{"s":"G","c":285,"q":345,"e":99.74},{"s":"G","c":290,"q":344,"e":99.75},{"s":"G","c":295,"q":343,"e":99.73},{"s":"G","c":300,"q":342,"e":99.75},{"s":"G","c":305,"q":341.3,"e":99.74},{"s":"G","c":310,"q":340.8,"e":99.75},
{"s":"G","c":24,"q":628},{"s":"G","c":27,"q":521.7},{"s":"G","c":76,"q":411.7,"e":91.0},{"s":"G","c":14,"e":99.56},{"s":"G","c":178,"e":98.85},{"s":"G","c":182,"e":98.75},
{"s":"A","c":1,"q":512,"e":99.0},{"s":"A","c":5,"q":508,"e":99.1},{"s":"A","c":10,"q":503.5,"e":99.2},{"s":"A","c":15,"q":499,"e":99.33},{"s":"A","c":20,"q":495,"e":99.45},{"s":"A","c":25,"q":491,"e":99.6},{"s":"A","c":30,"q":487.5,"e":99.72},{"s":"A","c":35,"q":484.5,"e":99.8},{"s":"A","c":40,"q":482,"e":99.87},{"s":"A","c":45,"q":479.5,"e":99.92},{"s":"A","c":50,"q":477,"e":99.95},{"s":"A","c":55,"q":474.5,"e":99.97},{"s":"A","c":60,"q":472.5,"e":99.95},{"s":"A","c":65,"q":470.5,"e":99.7},{"s":"A","c":70,"q":468.5,"e":99.97},{"s":"A","c":75,"q":466.5,"e":99.95},{"s":"A","c":80,"q":464.5,"e":99.98},{"s":"A","c":85,"q":462.5,"e":99.95},{"s":"A","c":90,"q":460.5,"e":99.97},{"s":"A","c":95,"q":459,"e":100},{"s":"A","c":100,"q":457.5,"e":99.96},{"s":"A","c":105,"q":456,"e":99.98},{"s":"A","c":110,"q":454.5,"e":99.95},{"s":"A","c":115,"q":453,"e":99.97},{"s":"A","c":120,"q":451.5,"e":99.98},{"s":"A","c":125,"q":450,"e":99.95},{"s":"A","c":130,"q":449,"e":99.97},{"s":"A","c":135,"q":447.5,"e":99.96},{"s":"A","c":140,"q":446,"e":99.98},{"s":"A","c":145,"q":444.5,"e":99.58},{"s":"A","c":150,"q":443.5,"e":99.96},{"s":"A","c":155,"q":442,"e":99.97},{"s":"A","c":160,"q":441,"e":99.95},{"s":"A","c":165,"q":439.5,"e":99.7},{"s":"A","c":170,"q":438,"e":99.97},{"s":"A","c":175,"q":436.5,"e":99.96},{"s":"A","c":180,"q":435,"e":99.98},{"s":"A","c":185,"q":433,"e":99.95},{"s":"A","c":190,"q":431,"e":99.97},{"s":"A","c":195,"q":429,"e":99.96},{"s":"A","c":200,"q":427,"e":99.98},{"s":"A","c":205,"q":425.5,"e":99.43},{"s":"A","c":210,"q":424,"e":99.96},{"s":"A","c":215,"q":422.5,"e":99.97},{"s":"A","c":220,"q":421,"e":99.95},{"s":"A","c":225,"q":419.5,"e":99.98},{"s":"A","c":230,"q":418,"e":99.96},{"s":"A","c":235,"q":416.5,"e":99.97},{"s":"A","c":240,"q":415,"e":99.95},{"s":"A","c":245,"q":413.5,"e":99.97},{"s":"A","c":250,"q":412.5,"e":99.96},{"s":"A","c":255,"q":411.2,"e":99.98},{"s":"A","c":260,"q":410,"e":99.95},{"s":"A","c":265,"q":409,"e":99.9},{"s":"A","c":270,"q":408,"e":99.64},{"s":"A","c":275,"q":407,"e":99.9},{"s":"A","c":280,"q":405.5,"e":99.85},{"s":"A","c":285,"q":402,"e":99.5},{"s":"A","c":290,"q":396.5,"e":99.3},{"s":"A","c":295,"q":391,"e":99.25},{"s":"A","c":300,"q":386,"e":99.3},{"s":"A","c":305,"q":382,"e":99.4},{"s":"A","c":310,"q":378.5,"e":99.32},{"s":"A","c":315,"q":375.5,"e":99.5},{"s":"A","c":320,"q":373,"e":99.6},{"s":"A","c":325,"q":370.5,"e":99.62},{"s":"A","c":330,"q":368,"e":99.65},{"s":"A","c":335,"q":365.5,"e":99.75},{"s":"A","c":340,"q":363,"e":99.8},{"s":"A","c":345,"q":360.5,"e":99.82},{"s":"A","c":350,"q":358.5,"e":99.85},{"s":"A","c":355,"q":356.5,"e":99.88},{"s":"A","c":360,"q":354.5,"e":99.9},{"s":"A","c":365,"q":353,"e":99.93},{"s":"A","c":370,"q":351.5,"e":99.95},{"s":"A","c":375,"q":350.3,"e":99.96},{"s":"A","c":380,"q":349,"e":99.97},{"s":"A","c":385,"q":347.8,"e":99.98},{"s":"A","c":390,"q":346.7,"e":99.97},{"s":"A","c":395,"q":345.7,"e":99.99},{"s":"A","c":400,"q":344.8,"e":99.98},{"s":"A","c":405,"q":343.9,"e":100},{"s":"A","c":410,"q":343,"e":99.99},{"s":"A","c":415,"q":342.2,"e":100},{"s":"A","c":420,"q":341.4,"e":99.99},{"s":"A","c":425,"q":340.6,"e":100},{"s":"A","c":430,"q":339.8,"e":99.99},{"s":"A","c":435,"q":339.1,"e":100},{"s":"A","c":440,"q":338.5,"e":100},{"s":"A","c":445,"q":338,"e":100},{"s":"A","c":450,"q":337.5,"e":100},
{"s":"A","c":48,"q":510},{"s":"A","c":60,"q":606},{"s":"A","c":62,"q":576},{"s":"A","c":256,"q":401},{"s":"A","c":283,"e":99.6},{"s":"A","c":287,"e":99.45},{"s":"A","c":288,"e":99.35},{"s":"A","c":291,"e":98.89},{"s":"A","c":292,"e":99.3},{"s":"A","c":298,"e":99.35},{"s":"A","c":303,"e":98.94}
]
},
"vconcat": [
{
  "width": 479, "height": 335,
  "title": {"text": "a)", "dx": -31, "offset": -20},
  "data": {"name": "a"},
  "view": {"stroke": "#808080", "strokeWidth": 1.5},
  "layer": [
    {"mark": {"type": "line", "strokeWidth": 2.6, "interpolate": "monotone"},
     "encoding": {
       "x": {"field": "x", "type": "quantitative", "scale": {"domain": [0, 700], "nice": false}, "axis": {"orient": "bottom", "values": [0,100,200,300,400,500,600,700], "title": "Specific charge [mAh g⁻¹]", "titlePadding": 6}},
       "y": {"field": "v", "type": "quantitative", "scale": {"domain": [-0.048, 2.5], "nice": false, "zero": false}, "axis": {"orient": "left", "values": [0,0.5,1,1.5,2,2.5], "format": ".1f", "title": "Potential [V] vs. Li⁺/Li", "titlePadding": 16}},
       "color": {"field": "s", "type": "nominal", "scale": {"domain": ["P","C","G","A"], "range": ["#000000","#ff0000","#00f000","#0000ff"]},
         "legend": {"orient": "none", "legendX": 110, "legendY": 12, "title": null, "padding": 0, "labelExpr": "{'P':'PAA:CMC','C':'CMC:SBR_R','G':'GG_R','A':'Alg_R'}[datum.label]", "labelFont": "Liberation Sans", "labelFontSize": 21, "labelColor": "#000", "symbolType": "M0,0H10", "symbolSize": 104, "symbolStrokeWidth": 3, "labelOffset": 47, "rowPadding": 6.5}},
       "detail": {"field": "g"}
     }},
    {"mark": {"type": "point", "opacity": 0},
     "encoding": {
       "x": {"field": "x", "type": "quantitative", "scale": {"domain": [0, 700], "nice": false}, "axis": {"orient": "bottom", "values": [50,150,250,350,450,550,650], "labels": false, "domain": false, "tickSize": 3, "title": null}},
       "y": {"field": "v", "type": "quantitative", "scale": {"domain": [-0.048, 2.5], "nice": false, "zero": false}, "axis": {"orient": "left", "values": [0.25,0.75,1.25,1.75,2.25], "labels": false, "domain": false, "tickSize": 3, "title": null}}
     }}
  ],
  "resolve": {"axis": {"x": "independent", "y": "independent"}}
},
{
  "hconcat": [
    {"width": 17, "height": 10, "data": {"values": [{"z": 0}]}, "mark": {"type": "point", "opacity": 0}, "view": {"stroke": null}},
    {
      "vconcat": [
        {
          "width": 436, "height": 320,
          "title": {"text": "b)", "dx": -38, "offset": -7},
          "data": {"name": "b"},
          "layer": [
            {"mark": {"type": "circle", "size": 64, "opacity": 1, "clip": true},
             "encoding": {
               "x": {"field": "c", "type": "quantitative", "scale": {"domain": [0, 70], "nice": false}, "axis": {"orient": "bottom", "values": [0,10,20,30,40,50,60,70], "title": "Cycle", "titlePadding": 12}},
               "y": {"field": "q", "type": "quantitative", "scale": {"domain": [400, 600], "nice": false, "zero": false}, "axis": {"orient": "left", "values": [400,450,500,550,600], "title": "Specific charge [mAh g⁻¹]", "titlePadding": 20}},
               "color": {"field": "s", "type": "nominal", "scale": {"domain": ["P","C","G","A"], "range": ["#000000","#ff0000","#00f000","#0000ff"]}, "legend": null}
             }},
            {"mark": {"type": "point", "shape": "M0,-1L0.225,-0.31L0.951,-0.309L0.363,0.118L0.588,0.809L0,0.382L-0.588,0.809L-0.363,0.118L-0.951,-0.309L-0.225,-0.31Z", "filled": true, "size": 95, "opacity": 1, "clip": true},
             "encoding": {
               "x": {"field": "c", "type": "quantitative", "axis": null},
               "y": {"field": "e", "type": "quantitative", "scale": {"domain": [90, 100], "nice": false, "zero": false}, "axis": {"orient": "right", "values": [90,92,94,96,98,100], "title": "Coulombic efficiency [%]", "titleAngle": 270, "titleBaseline": "top", "titlePadding": 0}},
               "color": {"field": "s", "type": "nominal", "legend": null}
             }},
            {"mark": {"type": "circle", "opacity": 0},
             "encoding": {
               "x": {"field": "c", "type": "quantitative", "axis": {"orient": "bottom", "values": [5,15,25,35,45,55,65], "labels": false, "domain": false, "tickSize": 3, "title": null}},
               "y": {"field": "q", "type": "quantitative", "scale": {"domain": [400, 600], "nice": false, "zero": false}, "axis": {"orient": "left", "values": [425,475,525,575], "labels": false, "domain": false, "tickSize": 3, "title": null}}
             }},
            {"mark": {"type": "circle", "opacity": 0},
             "encoding": {
               "x": {"field": "c", "type": "quantitative", "axis": null},
               "y": {"field": "e", "type": "quantitative", "scale": {"domain": [90, 100], "nice": false, "zero": false}, "axis": {"orient": "right", "values": [91,93,95,97,99], "labels": false, "domain": false, "tickSize": 3, "title": null}}
             }}
          ],
          "resolve": {"scale": {"y": "independent"}, "axis": {"x": "independent", "y": "independent"}}
        },
        {
          "width": 436, "height": 320,
          "title": {"text": ["", "c)"], "lineHeight": 22, "dx": -38, "offset": -29},
          "data": {"name": "c"},
          "layer": [
            {"mark": {"type": "circle", "size": 64, "opacity": 1, "clip": true},
             "encoding": {
               "x": {"field": "c", "type": "quantitative", "scale": {"domain": [0, 450], "nice": false}, "axis": {"orient": "bottom", "values": [0,50,100,150,200,250,300,350,400,450], "title": "Cycle", "titlePadding": 9}},
               "y": {"field": "q", "type": "quantitative", "scale": {"domain": [300, 700], "nice": false, "zero": false}, "axis": {"orient": "left", "values": [300,400,500,600,700], "title": "Specific charge [mAh g⁻¹]", "titlePadding": 20}},
               "color": {"field": "s", "type": "nominal", "scale": {"domain": ["D","P","C","G","A"], "range": ["#000000","#000000","#ff0000","#00f000","#0000ff"]},
                 "legend": {"orient": "none", "legendX": 154, "legendY": 52, "title": null, "padding": 6, "strokeColor": "#000", "symbolOffset": 11, "labelOffset": 12, "labelLimit": 400, "labelFont": "Liberation Sans", "labelFontSize": 18, "labelColor": "#000", "symbolType": "circle", "symbolSize": 64, "rowPadding": 5, "labelExpr": "{'D':'Discharge /\u00a0\u00a0\u00a0\u00a0★\u00a0\u00a0\u00a0Efficiency','P':'PAA:CMC','C':'CMC:SBR_R','G':'GG_R','A':'Alg_R'}[datum.label]"}}
             }},
            {"mark": {"type": "point", "shape": "M0,-1L0.225,-0.31L0.951,-0.309L0.363,0.118L0.588,0.809L0,0.382L-0.588,0.809L-0.363,0.118L-0.951,-0.309L-0.225,-0.31Z", "filled": true, "size": 95, "opacity": 1, "clip": true},
             "encoding": {
               "x": {"field": "c", "type": "quantitative", "axis": null},
               "y": {"field": "e", "type": "quantitative", "scale": {"domain": [90, 100], "nice": false, "zero": false}, "axis": {"orient": "right", "values": [90,92,94,96,98,100], "title": "Coulombic efficiency [%]", "titleAngle": 270, "titleBaseline": "top", "titlePadding": 0}},
               "color": {"field": "s", "type": "nominal"}
             }},
            {"mark": {"type": "circle", "opacity": 0},
             "encoding": {
               "x": {"field": "c", "type": "quantitative", "axis": {"orient": "bottom", "values": [25,75,125,175,225,275,325,375,425], "labels": false, "domain": false, "tickSize": 3, "title": null}},
               "y": {"field": "q", "type": "quantitative", "scale": {"domain": [300, 700], "nice": false, "zero": false}, "axis": {"orient": "left", "values": [350,450,550,650], "labels": false, "domain": false, "tickSize": 3, "title": null}}
             }},
            {"mark": {"type": "circle", "opacity": 0},
             "encoding": {
               "x": {"field": "c", "type": "quantitative", "axis": null},
               "y": {"field": "e", "type": "quantitative", "scale": {"domain": [90, 100], "nice": false, "zero": false}, "axis": {"orient": "right", "values": [91,93,95,97,99], "labels": false, "domain": false, "tickSize": 3, "title": null}}
             }}
          ],
          "resolve": {"scale": {"y": "independent"}, "axis": {"x": "independent", "y": "independent"}}
        }
      ],
      "spacing": 0,
      "resolve": {"scale": {"color": "independent"}, "legend": {"color": "independent"}}
    }
  ],
  "bounds": "flush",
  "spacing": 0,
  "resolve": {"scale": {"color": "independent"}, "legend": {"color": "independent"}}
}
],
"spacing": 0,
"resolve": {"scale": {"color": "independent"}, "legend": {"color": "independent"}}
}
